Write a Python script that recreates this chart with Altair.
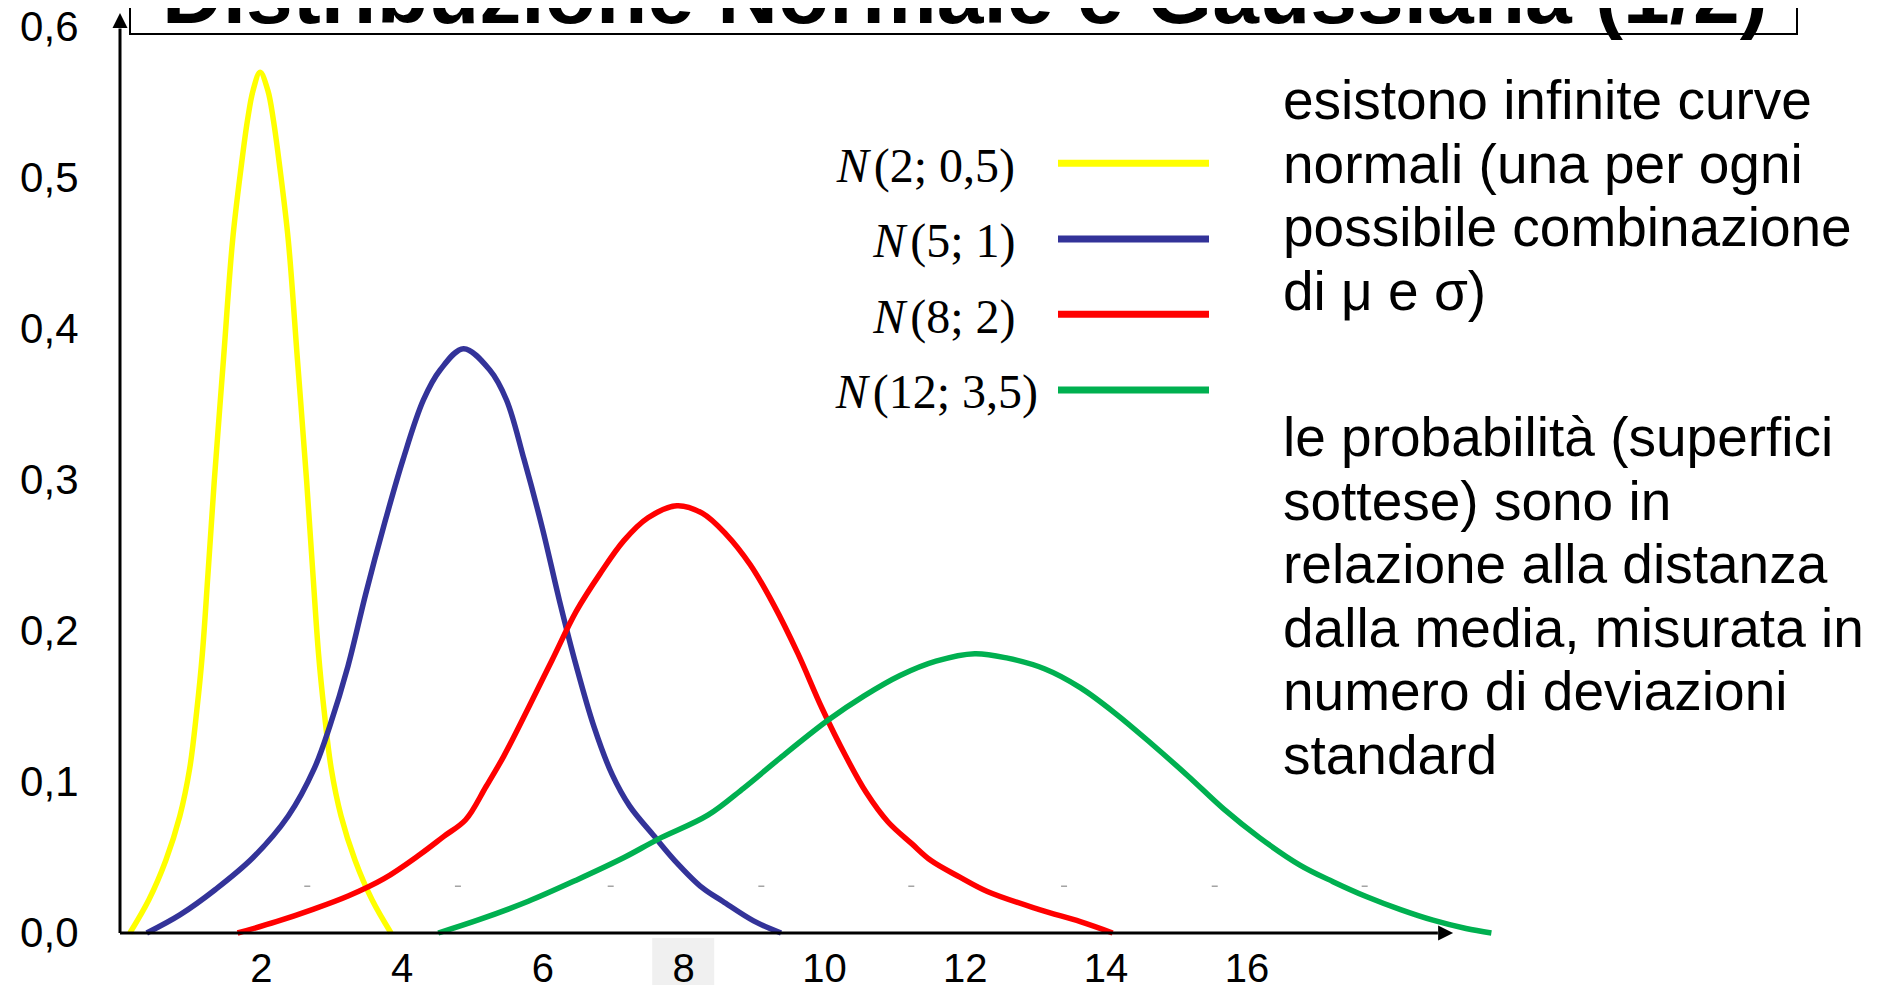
import altair as alt
import pandas as pd

# ---------------- data ----------------
title_text = "Distribuzione Normale e Gaussiana (1/2)"
x_ticks = [2, 4, 6, 8, 10, 12, 14, 16]
y_ticks = [0.0, 0.1, 0.2, 0.3, 0.4, 0.5, 0.6]
highlighted_tick = [8]

series_names = ["N(2; 0,5)", "N(5; 1)", "N(8; 2)", "N(12; 3,5)"]
legend_args = ["(2; 0,5)", "(5; 1)", "(8; 2)", "(12; 3,5)"]
series_colors = ["#FFFF00", "#333399", "#FF0000", "#00B050"]

yellow_x = [0.14, 0.41, 0.65, 0.85, 0.99, 1.09, 1.17, 1.25, 1.34, 1.47, 1.60, 1.72, 1.81, 1.89, 1.99,
            2.10, 2.18, 2.27, 2.39, 2.52, 2.65, 2.74, 2.82, 2.90, 3.00, 3.14, 3.34, 3.58, 3.85]
yellow_y = [0.0, 0.022, 0.048, 0.0775, 0.109, 0.147, 0.185, 0.238, 0.300, 0.380, 0.459, 0.507, 0.538, 0.558, 0.570,
            0.558, 0.538, 0.507, 0.459, 0.380, 0.300, 0.238, 0.185, 0.147, 0.109, 0.0775, 0.048, 0.022, 0.0]

blue_x = [0.38, 0.85, 1.36, 1.89, 2.39, 2.76, 2.98, 3.24, 3.49, 3.75, 4.02, 4.31, 4.55, 4.88,
          5.25, 5.49, 5.74, 6.00, 6.24, 6.48, 6.73, 6.99, 7.24, 7.59, 7.88, 8.27, 8.56, 9.00, 9.39]
blue_y = [0.0, 0.012, 0.029, 0.050, 0.0775, 0.109, 0.137, 0.177, 0.2245, 0.270, 0.3135, 0.353, 0.373, 0.387,
          0.373, 0.353, 0.3135, 0.268, 0.2205, 0.177, 0.137, 0.105, 0.084, 0.064, 0.048, 0.030, 0.021, 0.008, 0.0]

red_x = [1.67, 2.22, 2.73, 3.24, 3.75, 4.26, 4.60, 4.91, 5.20, 5.45, 5.80, 6.14, 6.48, 6.82, 7.16, 7.50, 7.91,
         8.27, 8.61, 8.95, 9.29, 9.63, 9.97, 10.31, 10.60, 10.91, 11.25, 11.52, 11.93, 12.32, 13.06, 13.64, 14.10]
red_y = [0.0, 0.0075, 0.0155, 0.0245, 0.036, 0.052, 0.064, 0.075, 0.097, 0.117, 0.149, 0.181, 0.213, 0.238, 0.260, 0.275, 0.283,
         0.278, 0.264, 0.244, 0.217, 0.185, 0.149, 0.117, 0.093, 0.0735, 0.059, 0.048, 0.037, 0.0275, 0.0155, 0.0075, 0.0]

green_x = [4.52, 5.11, 5.80, 6.48, 7.16, 7.64, 8.35, 8.86, 9.38, 10.06, 10.57, 11.08, 11.59, 12.14,
           12.61, 13.13, 13.64, 14.15, 14.66, 15.17, 15.68, 16.19, 16.76, 17.23, 17.71, 18.19, 18.65, 19.12, 19.48]
green_y = [0.0, 0.009, 0.021, 0.035, 0.050, 0.062, 0.078, 0.096, 0.116, 0.141, 0.157, 0.1705, 0.180, 0.185,
           0.182, 0.175, 0.1625, 0.145, 0.125, 0.104, 0.082, 0.063, 0.045, 0.034, 0.024, 0.0155, 0.0085, 0.003, 0.0]

dash_x = [2.66, 4.80, 6.97, 9.11, 11.24, 13.41, 15.55, 17.68]
dash_y = [0.031, 0.031, 0.031, 0.031, 0.031, 0.031, 0.031, 0.031]

note_1 = ["esistono infinite curve", "normali (una per ogni", "possibile combinazione", "di μ e σ)"]
note_2 = ["le probabilità (superfici", "sottese) sono in", "relazione alla distanza",
          "dalla media, misurata in", "numero di deviazioni", "standard"]

# ---------------- layout ----------------
W, H = 1408, 906
X_DOMAIN = [0, 20]
Y_DOMAIN = [0, 0.6]
X_AXIS_END, Y_AXIS_END = 18.72, 0.599
X_ARROW, Y_ARROW = 18.83, 0.6043
LEG_X0, LEG_X1 = 938, 1089
LEG_Y = [136.3, 212.0, 287.3, 363.0]
LEG_N_X = [716.7, 753.3, 753.3, 715.7]
SANS = "Liberation Sans"
SERIF = "Liberation Serif"

xscale = alt.Scale(domain=X_DOMAIN, nice=False, zero=False)
yscale = alt.Scale(domain=Y_DOMAIN, nice=False, zero=False)
xaxis = alt.Axis(values=x_ticks, format="d", labelFontSize=40, labelFont=SANS, labelColor="black",
                 ticks=False, tickSize=0, domain=False, grid=False, labelPadding=16,
                 labelFlush=False, labelOverlap=False, title=None, zindex=2)
yaxis = alt.Axis(values=y_ticks, labelExpr="replace(format(datum.value, '.1f'), '.', ',')",
                 labelFontSize=42, labelFont=SANS, labelColor="black", ticks=False, tickSize=0,
                 domain=False, grid=False, labelPadding=42, labelFlush=False, labelOverlap=False,
                 labelBaseline="middle", title=None, zindex=2)


def X(f):
    return alt.X(f, type="quantitative", scale=xscale, axis=xaxis)


def Y(f):
    return alt.Y(f, type="quantitative", scale=yscale, axis=yaxis)


rows = []
for name, xs, ys in zip(series_names, [yellow_x, blue_x, red_x, green_x],
                        [yellow_y, blue_y, red_y, green_y]):
    for i, (a, b) in enumerate(zip(xs, ys)):
        rows.append({"series": name, "i": i, "x": a, "y": b})
curves_df = pd.DataFrame(rows)

one = pd.DataFrame({"a": [0]})

highlight = alt.Chart(pd.DataFrame({"x": highlighted_tick})).mark_point(
    shape="M-1,-0.887L1,-0.887L1,0.887L-1,0.887Z", size=3844, filled=True,
    color="#F0F0F0", opacity=1, strokeWidth=0
).encode(x=X("x"), y=alt.value(938.5))

title_box = alt.Chart(one).mark_rect(fill="white", stroke="black", strokeWidth=2).encode(
    x=alt.value(10), x2=alt.value(1677), y=alt.value(-40), y2=alt.value(7))
title = alt.Chart(one).mark_text(text=title_text, font=SANS, fontSize=84, fontWeight="bold",
                                 align="left", baseline="alphabetic", color="black").encode(
    x=alt.value(42), y=alt.value(-4))

curves = alt.Chart(curves_df).mark_line(strokeWidth=5.5, interpolate="catmull-rom", strokeCap="butt").encode(
    x=X("x"), y=Y("y"),
    color=alt.Color("series:N", scale=alt.Scale(domain=series_names, range=series_colors), legend=None),
    order="i:Q")

axes_df = pd.DataFrame({"x": [0], "y": [0], "x2": [X_AXIS_END], "y2": [Y_AXIS_END]})
y_line = alt.Chart(axes_df).mark_rule(color="black", strokeWidth=3).encode(
    x=X("x"), y=Y("y"), y2="y2:Q")
x_line = alt.Chart(axes_df).mark_rule(color="black", strokeWidth=3).encode(
    x=X("x"), x2="x2:Q", y=Y("y"))
y_arrow = alt.Chart(pd.DataFrame({"x": [0], "y": [Y_ARROW]})).mark_point(
    shape="M0,-1L1,1L-1,1Z", size=225, filled=True, color="black", opacity=1).encode(x=X("x"), y=Y("y"))
x_arrow = alt.Chart(pd.DataFrame({"x": [X_ARROW], "y": [0]})).mark_point(
    shape="M1,0L-1,-1L-1,1Z", size=225, filled=True, color="black", opacity=1).encode(x=X("x"), y=Y("y"))

dashes = alt.Chart(pd.DataFrame({"x": dash_x, "y": dash_y})).mark_point(
    shape="M-1,0L1,0", size=36, color="#8C8C8C", strokeWidth=1.2, opacity=1).encode(x=X("x"), y=Y("y"))

legend_layers = []
for k in range(4):
    legend_layers.append(alt.Chart(one).mark_rule(color=series_colors[k], strokeWidth=7).encode(
        x=alt.value(LEG_X0), x2=alt.value(LEG_X1), y=alt.value(LEG_Y[k])))
    legend_layers.append(alt.Chart(one).mark_text(text="N", font=SERIF, fontStyle="italic", fontSize=48,
                                                  align="left", baseline="alphabetic", color="black").encode(
        x=alt.value(LEG_N_X[k]), y=alt.value(LEG_Y[k] + 18.4)))
    legend_layers.append(alt.Chart(one).mark_text(text=legend_args[k], font=SERIF, fontSize=48,
                                                  align="left", baseline="alphabetic", color="black").encode(
        x=alt.value(LEG_N_X[k] + 37), y=alt.value(LEG_Y[k] + 18.4)))

note1 = alt.Chart(one).mark_text(font=SANS, fontSize=55, align="left", baseline="alphabetic",
                                 lineHeight=63.5, color="black").encode(
    x=alt.value(1163), y=alt.value(92), text=alt.value(note_1))
note2 = alt.Chart(one).mark_text(font=SANS, fontSize=55, align="left", baseline="alphabetic",
                                 lineHeight=63.5, color="black").encode(
    x=alt.value(1163), y=alt.value(429), text=alt.value(note_2))

chart = alt.layer(
    highlight, title_box, title, curves, y_line, x_line, y_arrow, x_arrow, dashes,
    *legend_layers, note1, note2
).properties(
    width=W, height=H, autosize="none",
    padding={"left": 112, "top": 19, "right": 342, "bottom": 52},
    background="white"
).configure_view(stroke=None)

chart.save("out.html", embed_options={"renderer": "svg", "actions": False})
